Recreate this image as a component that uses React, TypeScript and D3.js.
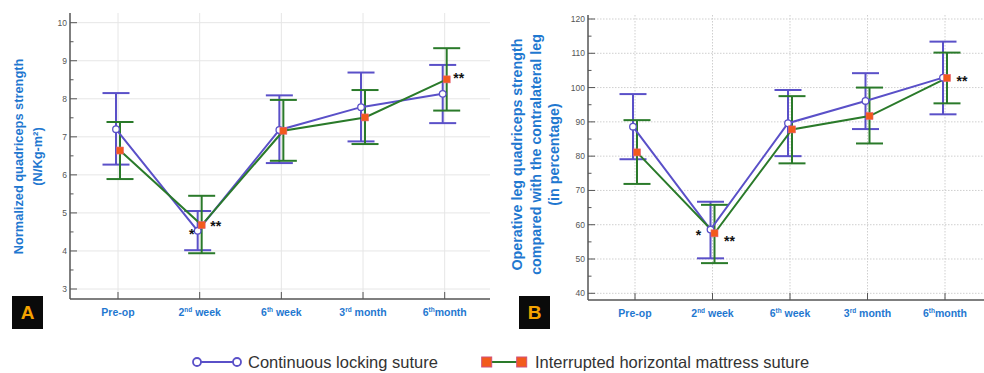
import React from "react";
import * as d3 from "d3";

const categories = ["Pre-op", "2nd week", "6th week", "3rd month", "6th month"];

// Panel A: normalized quadriceps strength
const aContMean = [7.2, 4.53, 7.18, 7.78, 8.13];
const aContLow = [6.27, 4.02, 6.31, 6.88, 7.36];
const aContHigh = [8.15, 5.05, 8.09, 8.69, 8.89];
const aIntMean = [6.64, 4.68, 7.16, 7.51, 8.51];
const aIntLow = [5.89, 3.94, 6.37, 6.81, 7.69];
const aIntHigh = [7.39, 5.45, 7.97, 8.23, 9.33];
const aTicks = [3, 4, 5, 6, 7, 8, 9, 10];

// Panel B: operative leg vs contralateral (%)
const bContMean = [88.6, 58.6, 89.6, 96.1, 102.9];
const bContLow = [79.1, 50.2, 80.0, 87.9, 92.2];
const bContHigh = [98.1, 66.7, 99.3, 104.2, 113.4];
const bIntMean = [81.1, 57.5, 87.8, 91.7, 102.8];
const bIntLow = [71.9, 48.8, 77.9, 83.7, 95.4];
const bIntHigh = [90.5, 65.8, 97.5, 100.0, 110.2];
const bTicks = [40, 50, 60, 70, 80, 90, 100, 110, 120];

const seriesNames = ["Continuous locking suture", "Interrupted horizontal mattress suture"];

const BLUE = "#5a50c8";
const GREEN = "#2a7a2a";
const ORANGE = "#f25a1c";
const LABEL = "#1f78d0";
const AXIS = "#555";
const FONT = "'Liberation Sans', Arial, Helvetica, sans-serif";

type Ann = { cat: number; text: string; dx: number; dy: number };

const aAnn: Ann[] = [
  { cat: 1, text: "*", dx: -8, dy: 6 },
  { cat: 1, text: "**", dx: 16, dy: -2 },
  { cat: 4, text: "**", dx: 14, dy: -4 },
];
const bAnn: Ann[] = [
  { cat: 1, text: "*", dx: -14, dy: -1 },
  { cat: 1, text: "**", dx: 17, dy: 5 },
  { cat: 4, text: "**", dx: 17, dy: 0 },
];

function CatLabel({ label, x, y }: { label: string; x: number; y: number }) {
  const m = label.match(/^(\d)(st|nd|rd|th)\s?(.*)$/);
  const fs = 10.5;
  if (!m) {
    return (
      <text x={x} y={y} textAnchor="middle" fontSize={fs} fontWeight="bold" fill={LABEL} fontFamily={FONT}>
        {label}
      </text>
    );
  }
  const spaced = label !== "6th month";
  return (
    <text x={x} y={y} textAnchor="middle" fontSize={fs} fontWeight="bold" fill={LABEL} fontFamily={FONT}>
      {m[1]}
      <tspan fontSize={6.5} dy={-4}>{m[2]}</tspan>
      <tspan dy={4}>{(spaced ? " " : "") + m[3]}</tspan>
    </text>
  );
}

type PanelProps = {
  xRange: [number, number];
  yDomain: [number, number];
  yRange: [number, number];
  axisX: number;
  axisRight: number;
  axisBottom: number;
  axisTop: number;
  ticks: number[];
  minorStep: number;
  dotted: boolean;
  cont: { mean: number[]; low: number[]; high: number[] };
  intr: { mean: number[]; low: number[]; high: number[] };
  ann: Ann[];
  yLabel: string[];
  yLabelX: number[];
  yLabelCenter: number;
  yLabelSize: number;
  letter: string;
  letterX: number;
};

function Panel(p: PanelProps) {
  const x = d3.scalePoint<string>().domain(categories).range(p.xRange);
  const y = d3.scaleLinear().domain(p.yDomain).range(p.yRange);
  const minor = d3.range(p.yDomain[0], p.yDomain[1] + 1e-9, p.minorStep).filter((v) => !p.ticks.includes(v));
  const off = 2;
  const cap = 13.5;
  const line = (vals: number[], dx: number) =>
    d3.line<number>().x((_, i) => (x(categories[i]) as number) + dx).y((v) => y(v))(vals) as string;

  const errBars = (s: { mean: number[]; low: number[]; high: number[] }, dx: number, color: string) =>
    s.mean.map((_, i) => {
      const cx = (x(categories[i]) as number) + dx;
      return (
        <g key={i} stroke={color} strokeWidth={2}>
          <line x1={cx} x2={cx} y1={y(s.low[i])} y2={y(s.high[i])} />
          <line x1={cx - cap} x2={cx + cap} y1={y(s.low[i])} y2={y(s.low[i])} />
          <line x1={cx - cap} x2={cx + cap} y1={y(s.high[i])} y2={y(s.high[i])} />
        </g>
      );
    });

  return (
    <g>
      {/* grid */}
      <g stroke={p.dotted ? "#cfcfcf" : "#e6e6e6"} strokeWidth={1} strokeDasharray={p.dotted ? "1.5,1.5" : undefined}>
        {p.ticks.map((t) => (
          <line key={"h" + t} x1={p.axisX} x2={p.axisRight} y1={y(t)} y2={y(t)} />
        ))}
        {categories.map((c) => (
          <line key={"v" + c} x1={x(c)} x2={x(c)} y1={p.axisTop} y2={p.axisBottom} />
        ))}
      </g>
      {/* axes */}
      <g stroke={AXIS} strokeWidth={1.5}>
        <line x1={p.axisX} x2={p.axisX} y1={p.axisTop} y2={p.axisBottom} />
        <line x1={p.axisX} x2={p.axisRight} y1={p.axisBottom} y2={p.axisBottom} />
      </g>
      <g stroke={AXIS} strokeWidth={1}>
        {p.ticks.map((t) => (
          <line key={"t" + t} x1={p.axisX} x2={p.axisX + 7} y1={y(t)} y2={y(t)} />
        ))}
        {minor.map((t) => (
          <line key={"m" + t} x1={p.axisX} x2={p.axisX + 3.5} y1={y(t)} y2={y(t)} />
        ))}
        {categories.map((c) => (
          <line key={"xt" + c} x1={x(c)} x2={x(c)} y1={p.axisBottom} y2={p.axisBottom - 7} />
        ))}
      </g>
      {p.ticks.map((t) => (
        <text key={"tl" + t} x={p.axisX - 3} y={y(t) + 3} textAnchor="end" fontSize={8.5} fill="#555" fontFamily={FONT}>
          {t}
        </text>
      ))}
      {categories.map((c) => (
        <CatLabel key={"cl" + c} label={c} x={x(c) as number} y={p.axisBottom + 17} />
      ))}
      {/* y label */}
      <g transform={`rotate(-90)`}>
        {p.yLabel.map((l, i) => (
          <text
            key={l}
            x={-p.yLabelCenter}
            y={p.yLabelX[i]}
            textAnchor="middle"
            fontSize={p.yLabelSize}
            fontWeight="bold"
            fill={LABEL}
            fontFamily={FONT}
          >
            {l}
          </text>
        ))}
      </g>
      {/* letter box */}
      <rect x={p.letterX} y={296} width={31} height={33} fill="#0a0a0a" />
      <text x={p.letterX + 15.5} y={319} textAnchor="middle" fontSize={19} fontWeight="bold" fill="#f5a300" fontFamily={FONT}>
        {p.letter}
      </text>
      {/* data */}
      {errBars(p.cont, -off, BLUE)}
      {errBars(p.intr, off, GREEN)}
      <path d={line(p.cont.mean, -off)} fill="none" stroke={BLUE} strokeWidth={2} />
      <path d={line(p.intr.mean, off)} fill="none" stroke={GREEN} strokeWidth={2} />
      {p.cont.mean.map((v, i) => (
        <circle key={"c" + i} cx={(x(categories[i]) as number) - off} cy={y(v)} r={3.3} fill="#fff" stroke={BLUE} strokeWidth={1.3} />
      ))}
      {p.intr.mean.map((v, i) => (
        <rect key={"s" + i} x={(x(categories[i]) as number) + off - 3.5} y={y(v) - 3.5} width={7} height={7} fill={ORANGE} stroke="#e8607a" strokeWidth={0.6} />
      ))}
      {p.ann.map((a, i) => (
        <text
          key={"a" + i}
          x={(x(categories[a.cat]) as number) + a.dx}
          y={y(p.intr.mean[a.cat]) + a.dy + 8}
          textAnchor="middle"
          fontSize={14}
          fontWeight="bold"
          fill="#111"
          fontFamily={FONT}
        >
          {a.text}
        </text>
      ))}
    </g>
  );
}

export default function App() {
  return (
    <svg width={984} height={373} style={{ position: "absolute", left: 0, top: 0, background: "#fff" }}>
      <rect x={0} y={0} width={984} height={373} fill="#fff" />
      <Panel
        xRange={[118, 444.7]}
        yDomain={[3, 10]}
        yRange={[289, 22.7]}
        axisX={70}
        axisRight={490}
        axisBottom={299}
        axisTop={13}
        ticks={aTicks}
        minorStep={0.5}
        dotted={false}
        cont={{ mean: aContMean, low: aContLow, high: aContHigh }}
        intr={{ mean: aIntMean, low: aIntLow, high: aIntHigh }}
        ann={aAnn}
        yLabel={["Normalized quadriceps strength", "(N/Kg-m²)"]}
        yLabelX={[22.5, 41.5]}
        yLabelCenter={156.5}
        yLabelSize={12.8}
        letter="A"
        letterX={12}
      />
      <Panel
        xRange={[635, 945]}
        yDomain={[40, 120]}
        yRange={[293.3, 19]}
        axisX={588}
        axisRight={984}
        axisBottom={300}
        axisTop={15}
        ticks={bTicks}
        minorStep={5}
        dotted={true}
        cont={{ mean: bContMean, low: bContLow, high: bContHigh }}
        intr={{ mean: bIntMean, low: bIntLow, high: bIntHigh }}
        ann={bAnn}
        yLabel={["Operative leg quadriceps strength", "compared with the contralateral leg", "(in percentage)"]}
        yLabelX={[522, 541, 559]}
        yLabelCenter={154.5}
        yLabelSize={14.3}
        letter="B"
        letterX={519}
      />
      {/* legend */}
      <g>
        <line x1={197} x2={237} y1={362} y2={362} stroke={BLUE} strokeWidth={2} />
        <circle cx={197} cy={362} r={4} fill="#fff" stroke={BLUE} strokeWidth={1.8} />
        <circle cx={237} cy={362} r={4} fill="#fff" stroke={BLUE} strokeWidth={1.8} />
        <text x={248} y={368} fontSize={16.5} fill="#333" fontFamily={FONT}>
          {seriesNames[0]}
        </text>
        <line x1={487} x2={522} y1={362} y2={362} stroke={GREEN} strokeWidth={2} />
        <rect x={481.7} y={357} width={10} height={10} fill={ORANGE} stroke="#d0507a" strokeWidth={1} />
        <rect x={516.7} y={357} width={10} height={10} fill={ORANGE} stroke="#d0507a" strokeWidth={1} />
        <text x={535} y={368} fontSize={16.5} fill="#333" fontFamily={FONT}>
          {seriesNames[1]}
        </text>
      </g>
    </svg>
  );
}
